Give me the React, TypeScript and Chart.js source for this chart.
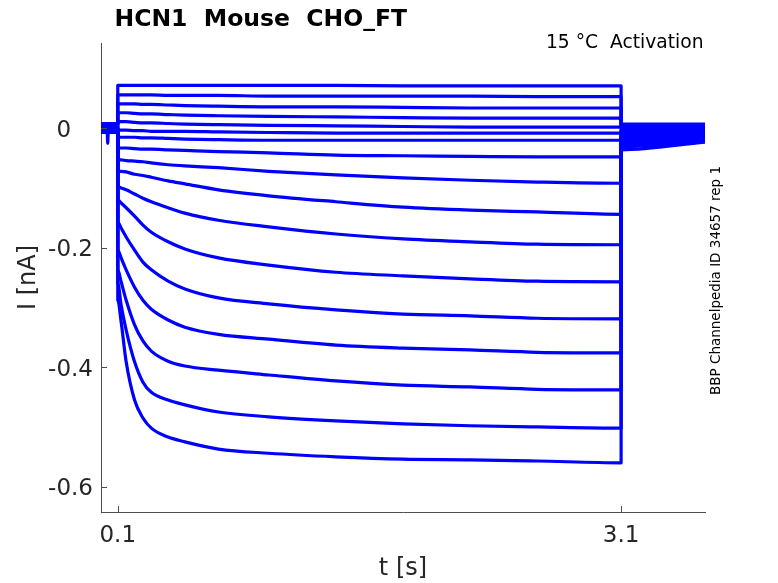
import { useEffect, useRef } from "react";
import { Chart, registerables, type Plugin } from "chart.js";

Chart.register(...registerables);

const sampleTimes = [0.1, 0.12, 0.15, 0.2, 0.25, 0.3, 0.4, 0.5, 0.7, 1.0, 1.4, 1.8, 2.2, 2.6, 3.1];

// current (nA) of each sweep at sampleTimes, top trace first
const sweep01 = [0.072, 0.072, 0.072, 0.072, 0.072, 0.072, 0.072, 0.072, 0.072, 0.072, 0.072, 0.071, 0.071, 0.071, 0.071];
const sweep02 = [0.056, 0.056, 0.056, 0.056, 0.056, 0.056, 0.055, 0.055, 0.055, 0.054, 0.054, 0.054, 0.054, 0.053, 0.053];
const sweep03 = [0.041, 0.041, 0.041, 0.041, 0.040, 0.040, 0.039, 0.038, 0.037, 0.036, 0.036, 0.035, 0.034, 0.034, 0.034];
const sweep04 = [0.026, 0.026, 0.026, 0.025, 0.024, 0.024, 0.023, 0.022, 0.021, 0.020, 0.019, 0.018, 0.017, 0.017, 0.017];
const sweep05 = [0.011, 0.011, 0.011, 0.010, 0.009, 0.009, 0.008, 0.007, 0.006, 0.005, 0.004, 0.003, 0.002, 0.002, 0.002];
const sweep06 = [-0.003, -0.003, -0.003, -0.004, -0.004, -0.005, -0.005, -0.005, -0.006, -0.007, -0.008, -0.008, -0.008, -0.008, -0.008];
const sweep07 = [-0.015, -0.015, -0.015, -0.015, -0.016, -0.016, -0.017, -0.018, -0.019, -0.020, -0.020, -0.020, -0.020, -0.020, -0.020];
const sweep08 = [-0.033, -0.033, -0.033, -0.034, -0.035, -0.035, -0.036, -0.037, -0.039, -0.041, -0.045, -0.046, -0.047, -0.048, -0.048];
const sweep09 = [-0.053, -0.053, -0.054, -0.055, -0.056, -0.058, -0.061, -0.063, -0.066, -0.072, -0.078, -0.083, -0.087, -0.090, -0.092];
const sweep10 = [-0.072, -0.072, -0.073, -0.077, -0.079, -0.082, -0.088, -0.093, -0.103, -0.113, -0.123, -0.132, -0.137, -0.140, -0.144];
const sweep11 = [-0.098, -0.100, -0.103, -0.110, -0.117, -0.123, -0.133, -0.142, -0.154, -0.165, -0.177, -0.185, -0.190, -0.194, -0.195];
const sweep12 = [-0.120, -0.125, -0.133, -0.147, -0.162, -0.174, -0.190, -0.202, -0.217, -0.229, -0.241, -0.247, -0.252, -0.256, -0.257];
const sweep13 = [-0.157, -0.167, -0.182, -0.204, -0.224, -0.237, -0.256, -0.269, -0.284, -0.294, -0.304, -0.311, -0.314, -0.318, -0.319];
const sweep14 = [-0.204, -0.217, -0.237, -0.266, -0.288, -0.303, -0.321, -0.333, -0.345, -0.353, -0.363, -0.368, -0.371, -0.375, -0.376];
const sweep15 = [-0.237, -0.257, -0.288, -0.329, -0.356, -0.373, -0.390, -0.398, -0.405, -0.413, -0.423, -0.430, -0.433, -0.437, -0.438];
const sweep16 = [-0.259, -0.296, -0.338, -0.391, -0.425, -0.442, -0.455, -0.463, -0.475, -0.483, -0.490, -0.495, -0.498, -0.500, -0.502];
const sweep17 = [-0.288, -0.324, -0.391, -0.455, -0.485, -0.502, -0.517, -0.525, -0.537, -0.544, -0.550, -0.554, -0.555, -0.557, -0.560];

const sweeps = [
  sweep01, sweep02, sweep03, sweep04, sweep05, sweep06, sweep07, sweep08, sweep09,
  sweep10, sweep11, sweep12, sweep13, sweep14, sweep15, sweep16, sweep17,
];

// holding current before the step, and tail current after it (nA)
const holdingCurrent = [0.007, 0.005, 0.008, 0.003, 0.006, 0.001, 0.004, -0.002, 0.002, -0.004, 0.0, -0.006, -0.001, -0.003, -0.007, -0.005, -0.002];
const tailStartCurrent = [0.007, 0.006, 0.004, 0.002, 0.001, -0.001, -0.003, -0.005, -0.008, -0.01, -0.013, -0.016, -0.02, -0.023, -0.027, -0.031, -0.036];
const tailEndCurrent = [0.007, 0.006, 0.004, 0.002, 0.001, 0.0, -0.001, -0.003, -0.004, -0.006, -0.008, -0.01, -0.013, -0.015, -0.018, -0.02, -0.023];

// short artefact on the holding segment of the last sweep
const artifactTimes = [0.036, 0.04, 0.044];
const artifactCurrent = [0.0, -0.025, 0.0];

const recordStart = 0;
const stepStart = 0.1;
const stepEnd = 3.1;
const recordEnd = 3.6;

const xTickValues = [0.1, 3.1];
const xTickLabels = ["0.1", "3.1"];
const yTickValues = [0, -0.2, -0.4, -0.6];
const yTickLabels = ["0", "-0.2", "-0.4", "-0.6"];

const FONT = '"DejaVu Sans", sans-serif';
const TEXT = "#262626";
const AXIS = "#4d4d4d";

function sweepPoints(i: number) {
  const pts: { x: number; y: number }[] = [{ x: recordStart, y: holdingCurrent[i] }];
  if (i === sweeps.length - 1) {
    artifactTimes.forEach((t, k) => pts.push({ x: t, y: artifactCurrent[k] }));
  }
  pts.push({ x: stepStart, y: holdingCurrent[i] });
  sampleTimes.forEach((t, k) => pts.push({ x: t, y: sweeps[i][k] }));
  pts.push({ x: stepEnd, y: tailStartCurrent[i] });
  pts.push({ x: recordEnd, y: tailEndCurrent[i] });
  return pts;
}

const decorations: Plugin<"line"> = {
  id: "decorations",
  afterDraw(chart) {
    const { ctx, chartArea } = chart;
    const xs = chart.scales.x;
    const ys = chart.scales.y;
    ctx.save();

    // inward tick marks
    ctx.strokeStyle = AXIS;
    ctx.lineWidth = 1;
    ctx.beginPath();
    yTickValues.forEach((v) => {
      const py = Math.round(ys.getPixelForValue(v)) + 0.5;
      ctx.moveTo(chartArea.left, py);
      ctx.lineTo(chartArea.left + 6, py);
    });
    xTickValues.forEach((v) => {
      const px = Math.round(xs.getPixelForValue(v)) + 0.5;
      ctx.moveTo(px, chartArea.bottom);
      ctx.lineTo(px, chartArea.bottom - 6);
    });
    ctx.stroke();

    // tick labels (y labels aligned on the decimal point)
    ctx.fillStyle = TEXT;
    ctx.font = `23px ${FONT}`;
    ctx.textBaseline = "alphabetic";
    ctx.textAlign = "right";
    const labelRight = chartArea.left - 8;
    const fracWidth = ctx.measureText(".0").width;
    yTickLabels.forEach((label, i) => {
      const py = ys.getPixelForValue(yTickValues[i]);
      const right = label.includes(".") ? labelRight : labelRight - fracWidth;
      ctx.fillText(label, right, py + 8.4);
    });
    ctx.textAlign = "center";
    xTickLabels.forEach((label, i) => {
      ctx.fillText(label, xs.getPixelForValue(xTickValues[i]), chartArea.bottom + 30);
    });

    // axis titles
    ctx.font = `24px ${FONT}`;
    ctx.fillText("t [s]", (chartArea.left + chartArea.right) / 2, 575);
    ctx.save();
    ctx.translate(35, (chartArea.top + chartArea.bottom) / 2);
    ctx.rotate(-Math.PI / 2);
    ctx.fillText("I [nA]", 0, 0);
    ctx.restore();

    // title and notes
    ctx.textAlign = "left";
    ctx.font = `bold 23.5px ${FONT}`;
    ctx.fillStyle = "#000000";
    ctx.fillText("HCN1  Mouse  CHO_FT", 114.5, 26);
    ctx.fillStyle = "#000000";
    ctx.textAlign = "right";
    ctx.font = `18.7px ${FONT}`;
    ctx.fillText("15 °C  Activation", 703.5, 47.5);

    ctx.save();
    ctx.translate(720, 395);
    ctx.rotate(-Math.PI / 2);
    ctx.textAlign = "left";
    ctx.font = `13.5px ${FONT}`;
    ctx.fillStyle = "#000000";
    ctx.fillText("BBP Channelpedia ID 34657 rep 1", 0, 0);
    ctx.restore();

    ctx.restore();
  },
};

export default function App() {
  const canvasRef = useRef<HTMLCanvasElement>(null);
  const chartRef = useRef<Chart<"line"> | null>(null);

  useEffect(() => {
    document.body.style.margin = "0";
    if (!canvasRef.current) return;
    chartRef.current?.destroy();

    chartRef.current = new Chart(canvasRef.current, {
      type: "line",
      data: {
        datasets: sweeps.map((_, i) => ({
          label: `sweep ${i + 1}`,
          data: sweepPoints(i),
          borderColor: "#0000ff",
          borderWidth: 3.2,
          borderJoinStyle: "round" as const,
          cubicInterpolationMode: "monotone" as const,
          pointRadius: 0,
          fill: false,
        })),
      },
      options: {
        responsive: false,
        animation: false,
        events: [],
        layout: { padding: { top: 43, right: 73, bottom: 0, left: 0 } },
        plugins: {
          legend: { display: false },
          tooltip: { enabled: false },
        },
        scales: {
          x: {
            type: "linear",
            min: recordStart,
            max: recordEnd,
            grid: { display: false },
            border: { display: true, color: AXIS, width: 1 },
            ticks: { display: false },
            afterBuildTicks: (s) => {
              s.ticks = xTickValues.map((v) => ({ value: v }));
            },
            afterFit: (s) => {
              s.height = 71;
            },
          },
          y: {
            type: "linear",
            min: -0.6424,
            max: 0.1428,
            grid: { display: false },
            border: { display: true, color: AXIS, width: 1 },
            ticks: { display: false },
            afterBuildTicks: (s) => {
              s.ticks = yTickValues.map((v) => ({ value: v }));
            },
            afterFit: (s) => {
              s.width = 101;
            },
          },
        },
      },
      plugins: [decorations],
    });

    return () => {
      chartRef.current?.destroy();
      chartRef.current = null;
    };
  }, []);

  return (
    <div style={{ width: 778, height: 583, background: "#ffffff" }}>
      <canvas ref={canvasRef} width={778} height={583} style={{ display: "block" }} />
    </div>
  );
}
